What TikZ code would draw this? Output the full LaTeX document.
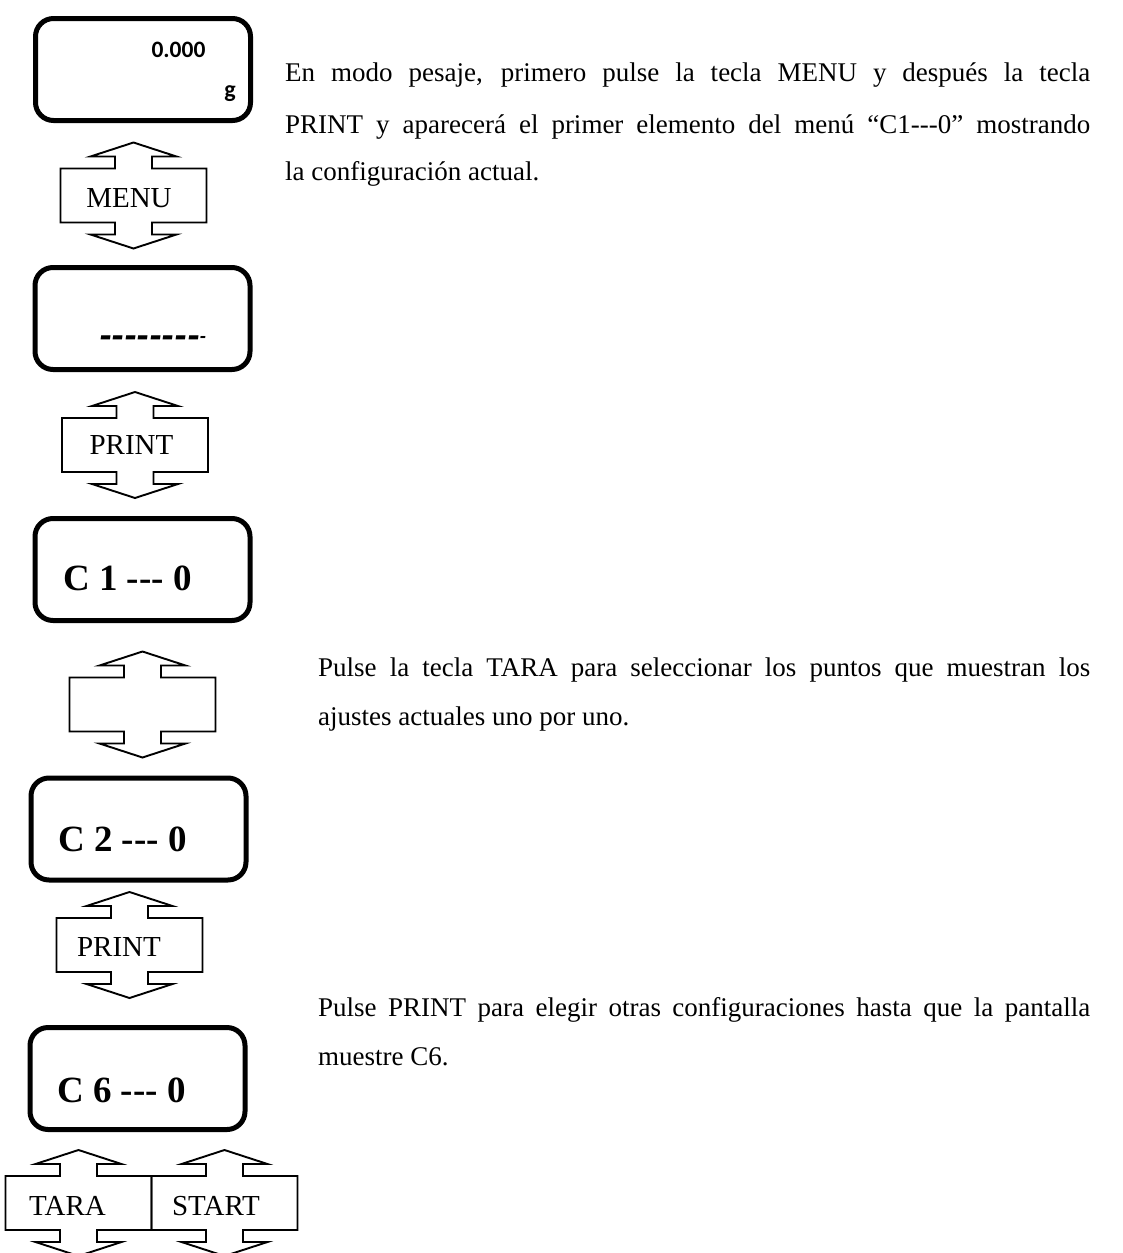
\documentclass[tikz,border=0pt]{standalone}
\usepackage{fontspec}
\setmainfont{Liberation Serif}
\newfontfamily\calib{Carlito}
\usetikzlibrary{calc}
\newcommand\hy{-\kern0pt }
\newcommand\keyarrow[3]{%
  \coordinate (#1) at (#2,#3);
  \draw[keyline,shift={(#1)}] (-73,-27) -- (-18.5,-27) -- (-18.5,-39) -- (-43,-39) -- (0,-53)
    -- (43,-39) -- (18.5,-39) -- (18.5,-27) -- (73,-27) -- (73,27) -- (18.5,27) -- (18.5,39)
    -- (43,39) -- (0,53) -- (-43,39) -- (-18.5,39) -- (-18.5,27) -- (-73,27) -- cycle;}
\begin{document}
\begin{tikzpicture}[x=1pt,y=-1pt,
  lcd/.style={draw, line width=5pt, rounded corners=18pt, minimum width=215pt, minimum height=102pt, inner sep=0pt},
  keyline/.style={line width=1.9pt, line join=miter},
  keylabel/.style={inner sep=0pt, font=\fontsize{29}{29}\selectfont},
  lcdtext/.style={inner sep=0pt, anchor=base, font=\bfseries\fontsize{37}{37}\selectfont},
  bodytext/.style={inner sep=0pt, anchor=base west, font=\fontsize{27}{27}\selectfont}]
\useasboundingbox (0,0) rectangle (1123,1253);

% displays
\node[lcd] (d1) at (143,69.5) {};
\node[lcd] (d2) at (142.5,318.5) {};
\node[lcd] (d3) at (142.5,569.5) {};
\node[lcd] (d4) at (138.5,829) {};
\node[lcd] (d5) at (137.5,1078.5) {};

% display contents
\node[inner sep=0pt, anchor=base, font=\calib\bfseries\fontsize{23.5}{23.5}\selectfont] (t1) at (178.5,57) {0.000};
\node[inner sep=0pt, anchor=base, font=\calib\bfseries\fontsize{24}{24}\selectfont] (t1g) at (230,97) {g};
\node[inner sep=0pt, anchor=base west, font=\calib\bfseries\itshape\fontsize{41}{41}\selectfont] (t2) at (99,349)
  {\hy\hy\hy\hy\hy\hy\hy\hy\raisebox{5.5pt}{\fontsize{21}{21}\selectfont -}};
\node[lcdtext] (t3) at (127.5,590) {C 1 \hy\hy\hy{} 0};
\node[lcdtext] (t4) at (122.5,851) {C 2 \hy\hy\hy{} 0};
\node[lcdtext] (t5) at (121.5,1102) {C 6 \hy\hy\hy{} 0};

% keys
\keyarrow{k1}{133.5}{195.5}
\node[keylabel] (l1) at (129,198) {MENU};
\keyarrow{k2}{135}{445}
\node[keylabel] (l2) at (131.5,445) {PRINT};
\keyarrow{k3}{142.5}{704.5}
\keyarrow{k4}{129.5}{945}
\node[keylabel] (l4) at (119,947) {PRINT};
\keyarrow{k5}{78.5}{1203}
\node[keylabel] (l5) at (67.5,1206) {TARA};
\keyarrow{k6}{224.5}{1203}
\node[keylabel] (l6) at (216,1206) {START};

% explanations
\node[bodytext] (p1a) at (285,81) {\makebox[805pt][s]{En modo pesaje, primero pulse la tecla MENU y después la tecla}};
\node[bodytext] (p1b) at (285,133) {\makebox[805pt][s]{PRINT y aparecerá el primer elemento del menú “C1\hy\hy\hy0” mostrando}};
\node[bodytext] (p1c) at (285,180) {la configuración actual.};
\node[bodytext] (p2a) at (318,676) {\makebox[772pt][s]{Pulse la tecla TARA para seleccionar los puntos que muestran los}};
\node[bodytext] (p2b) at (318,725) {ajustes actuales uno por uno.};
\node[bodytext] (p3a) at (318,1016) {\makebox[772pt][s]{Pulse PRINT para elegir otras configuraciones hasta que la pantalla}};
\node[bodytext] (p3b) at (318,1065) {muestre C6.};
\end{tikzpicture}
\end{document}
